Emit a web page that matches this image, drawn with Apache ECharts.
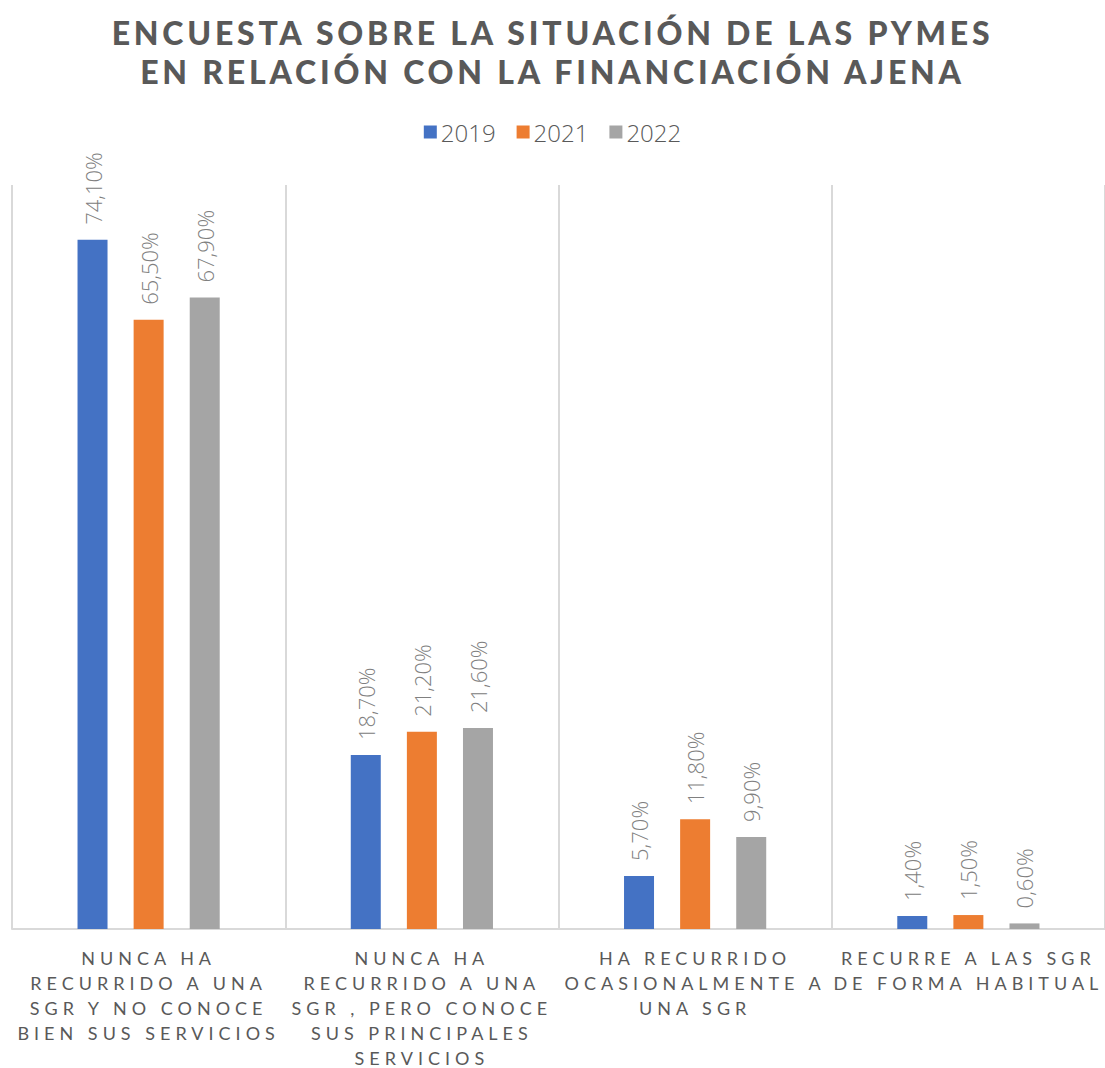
<!DOCTYPE html>
<html>
<head>
<meta charset="utf-8">
<script src="https://cdn.jsdelivr.net/npm/echarts@6/dist/echarts.min.js"></script>
<style>
  html, body { margin: 0; padding: 0; background: #fff; }
  #chart { width: 1105px; height: 1068px; }
</style>
</head>
<body>
<div id="chart"></div>
<script>
// Survey categories (axis labels, pre-wrapped)
const categories = [
  'NUNCA HA\nRECURRIDO A UNA\nSGR Y NO CONOCE\nBIEN SUS SERVICIOS',
  'NUNCA HA\nRECURRIDO A UNA\nSGR , PERO CONOCE\nSUS PRINCIPALES\nSERVICIOS',
  'HA RECURRIDO\nOCASIONALMENTE A\nUNA SGR',
  'RECURRE A LAS SGR\nDE FORMA HABITUAL'
];
const seriesNames = ['2019', '2021', '2022'];
const values2019 = [74.1, 18.7, 5.7, 1.4];
const values2021 = [65.5, 21.2, 11.8, 1.5];
const values2022 = [67.9, 21.6, 9.9, 0.6];
const colors = ['#4472C4', '#ED7D31', '#A5A5A5'];

const chart = echarts.init(document.getElementById('chart'), null, { renderer: 'svg' });

const fmt = p => p.value.toFixed(2).replace('.', ',') + '%';

function barSeries(name, data, color) {
  return {
    name: name,
    type: 'bar',
    data: data,
    barWidth: 30,
    barGap: '87%',
    itemStyle: { color: color },
    label: {
      show: true,
      position: 'top',
      rotate: 90,
      align: 'left',
      verticalAlign: 'middle',
      distance: 15,
      formatter: fmt,
      color: '#808080',
      fontFamily: 'Open Sans',
      fontWeight: 300,
      fontSize: 22
    }
  };
}

chart.setOption({
  animation: false,
  title: {
    text: 'ENCUESTA SOBRE LA SITUACIÓN DE LAS PYMES\nEN RELACIÓN CON LA FINANCIACIÓN AJENA',
    left: 'center',
    top: 8,
    padding: [5, 5, 5, 17],
    textStyle: {
      fontFamily: 'Lato',
      fontWeight: 900,
      fontSize: 32,
      lineHeight: 39,
      color: '#595959'
    }
  },
  legend: {
    top: 115,
    left: 'center',
    padding: [5, 5, 5, 15],
    itemWidth: 13,
    itemHeight: 13,
    itemGap: 21,
    icon: 'rect',
    textStyle: { fontFamily: 'Open Sans', fontWeight: 300, fontSize: 24, color: '#595959', padding: [0, 0, 0, -1] },
    data: seriesNames
  },
  grid: { left: 12, right: 0, top: 185, bottom: 139, containLabel: false, outerBoundsMode: 'none' },
  xAxis: {
    type: 'category',
    data: categories,
    axisLine: { lineStyle: { color: '#D9D9D9', width: 2 } },
    axisTick: { show: false },
    splitLine: { show: true, lineStyle: { color: '#D9D9D9', width: 2 } },
    axisLabel: {
      interval: 0,
      margin: 16,
      fontFamily: 'Lato',
      fontSize: 18,
      lineHeight: 25,
      color: '#595959'
    }
  },
  yAxis: {
    type: 'value',
    min: 0,
    max: 80,
    show: false,
    splitLine: { show: false }
  },
  series: [
    barSeries(seriesNames[0], values2019, colors[0]),
    barSeries(seriesNames[1], values2021, colors[1]),
    barSeries(seriesNames[2], values2022, colors[2])
  ]
});

// Wide tracking for the title and category labels (Lato text only)
function applyTracking() {
  document.querySelectorAll('#chart svg text').forEach(t => {
    const st = t.getAttribute('style') || '';
    if (st.indexOf('Lato') >= 0) {
      const heavy = st.indexOf('900') >= 0;
      t.style.letterSpacing = heavy ? '3.8px' : '5px';
    }
  });
}
applyTracking();
chart.on('finished', applyTracking);
</script>
</body>
</html>
